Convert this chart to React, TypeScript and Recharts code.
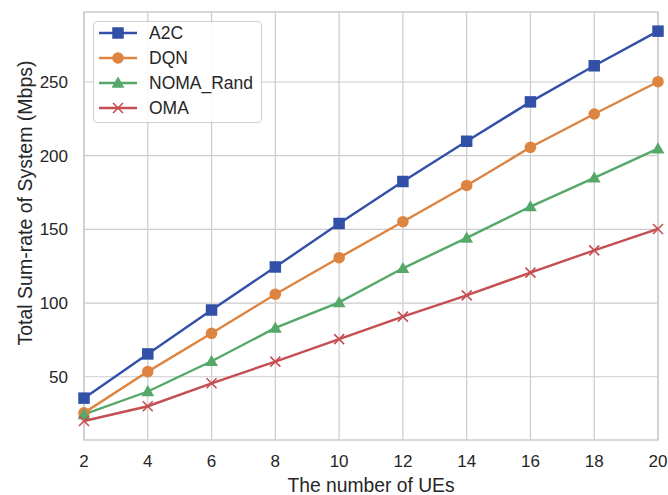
import React from "react";
import {
  LineChart,
  Line,
  XAxis,
  YAxis,
  CartesianGrid,
  ReferenceArea,
} from "recharts";

const ues = [2, 4, 6, 8, 10, 12, 14, 16, 18, 20];
const a2c = [35.5, 65.5, 95.3, 124.5, 154, 182.5, 209.8, 236.5, 261, 284.5];
const dqn = [25.5, 53.5, 79.5, 106, 130.8, 155.2, 179.8, 205.7, 228.3, 250.2];
const nomaRand = [24.5, 40, 60.5, 83.2, 100.5, 123.6, 144.2, 165.5, 185, 204.8];
const oma = [20, 30, 45.6, 60.3, 75.5, 90.8, 105.2, 120.7, 135.8, 150.3];
const xTicks = [2, 4, 6, 8, 10, 12, 14, 16, 18, 20];
const yTicks = [50, 100, 150, 200, 250];
const seriesNames = ["A2C", "DQN", "NOMA_Rand", "OMA"];

const data = ues.map((u, i) => ({
  ue: u,
  A2C: a2c[i],
  DQN: dqn[i],
  NOMA_Rand: nomaRand[i],
  OMA: oma[i],
}));

const COLORS: Record<string, string> = {
  A2C: "#3350a8",
  DQN: "#dd8440",
  NOMA_Rand: "#55a868",
  OMA: "#c44e52",
};

const FONT = "'Liberation Sans', Arial, sans-serif";
const GRID = "#cccccc";
const TXT = "#262626";

function Marker({ kind, cx, cy, color }: { kind: string; cx: number; cy: number; color: string }) {
  if (cx == null || cy == null) return null;
  if (kind === "A2C") {
    const s = 11.5;
    return <rect x={cx - s / 2} y={cy - s / 2} width={s} height={s} fill={color} />;
  }
  if (kind === "DQN") {
    return <circle cx={cx} cy={cy} r={5.8} fill={color} />;
  }
  if (kind === "NOMA_Rand") {
    const h = 6.4;
    return (
      <polygon
        points={`${cx},${cy - h} ${cx - h},${cy + h * 0.75} ${cx + h},${cy + h * 0.75}`}
        fill={color}
      />
    );
  }
  const d = 5;
  return (
    <g stroke={color} strokeWidth={1.6}>
      <line x1={cx - d} y1={cy - d} x2={cx + d} y2={cy + d} />
      <line x1={cx - d} y1={cy + d} x2={cx + d} y2={cy - d} />
    </g>
  );
}

const makeDot = (kind: string) => (props: any) => (
  <Marker key={`${kind}-${props.index}`} kind={kind} cx={props.cx} cy={props.cy} color={COLORS[kind]} />
);

function LegendBox() {
  return (
    <div
      style={{
        position: "absolute",
        left: 93,
        top: 21,
        width: 169,
        height: 102,
        border: "1px solid #d0d0d0",
        borderRadius: 4,
        background: "rgba(255,255,255,0.85)",
        boxSizing: "border-box",
      }}
    >
      <svg width={167} height={100} style={{ display: "block" }}>
        {seriesNames.map((n, i) => {
          const y = 11 + i * 25;
          return (
            <g key={n}>
              <line x1={5} y1={y} x2={43} y2={y} stroke={COLORS[n]} strokeWidth={2.4} />
              <Marker kind={n} cx={24} cy={y} color={COLORS[n]} />
              <text x={55} y={y} dy="0.36em" fontSize={17.5} fontFamily={FONT} fill={TXT}>
                {n}
              </text>
            </g>
          );
        })}
      </svg>
    </div>
  );
}

const YLabel = () => (
  <text
    x={25}
    y={203}
    transform="rotate(-90 25 203)"
    textAnchor="middle"
    dominantBaseline="central"
    fontSize={19.5}
    fontFamily={FONT}
    fill={TXT}
  >
    Total Sum-rate of System (Mbps)
  </text>
);

export default function App() {
  return (
    <div style={{ position: "absolute", left: 0, top: 0, width: 668, height: 495, background: "#fff" }}>
      <LineChart
        width={668}
        height={495}
        data={data}
        margin={{ top: 12, right: 10, left: 0, bottom: 0 }}
      >
        <CartesianGrid stroke={GRID} strokeWidth={1.2} verticalValues={xTicks} horizontalValues={yTicks} />
        <ReferenceArea
          x1={2}
          x2={20}
          y1={7.1}
          y2={297.5}
          fill="none"
          stroke={GRID}
          strokeWidth={1.5}
          ifOverflow="visible"
        />
        <XAxis
          dataKey="ue"
          type="number"
          domain={[2, 20]}
          ticks={xTicks}
          height={55}
          axisLine={false}
          tickLine={false}
          tickSize={0}
          tickMargin={15}
          tick={{ fontSize: 17, fontFamily: FONT, fill: TXT }}
          label={{
            value: "The number of UEs",
            position: "insideBottom",
            offset: 3,
            fontSize: 19.3,
            fontFamily: FONT,
            fill: TXT,
          }}
        />
        <YAxis
          type="number"
          domain={[7.1, 297.5]}
          ticks={yTicks}
          width={84}
          axisLine={false}
          tickLine={false}
          tickSize={0}
          tickMargin={16}
          tick={{ fontSize: 17, fontFamily: FONT, fill: TXT }}
          label={{ content: () => <YLabel /> }}
        />
        {seriesNames.map((n) => (
          <Line
            key={n}
            dataKey={n}
            stroke={COLORS[n]}
            strokeWidth={2.4}
            dot={makeDot(n)}
            activeDot={false}
            isAnimationActive={false}
          />
        ))}
      </LineChart>
      <LegendBox />
    </div>
  );
}
